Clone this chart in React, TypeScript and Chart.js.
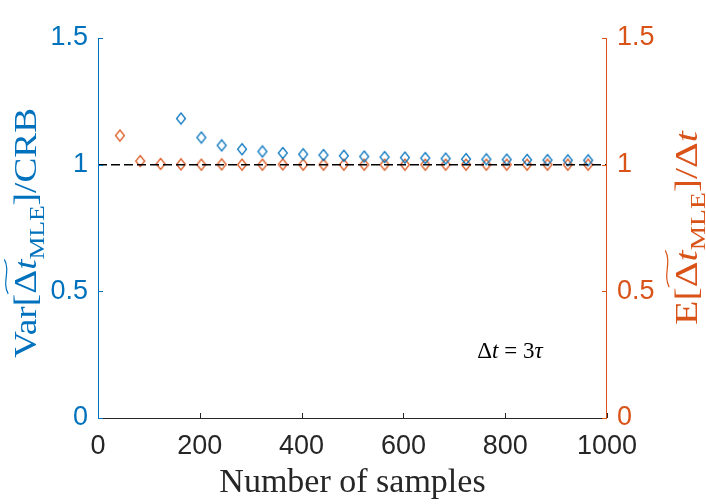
import React, { useEffect, useRef } from 'react';
import { Chart, registerables } from 'chart.js';

Chart.register(...registerables);

// sample counts for each estimate
const sampleCounts = [43, 83, 123, 163, 203, 243, 283, 323, 363, 403, 443, 483, 523, 563, 603, 643, 683, 723, 763, 803, 843, 883, 923, 963];
const varSampleCounts = [163, 203, 243, 283, 323, 363, 403, 443, 483, 523, 563, 603, 643, 683, 723, 763, 803, 843, 883, 923, 963];

// Var[dt_MLE]/CRB  (left axis)
const varRatio = [1.182, 1.107, 1.076, 1.061, 1.052, 1.046, 1.041, 1.038, 1.035, 1.032, 1.03, 1.028, 1.026, 1.024, 1.022, 1.021, 1.02, 1.019, 1.018, 1.017, 1.017];
// E[dt_MLE]/dt  (right axis)
const meanRatio = [1.115, 1.014, 1.003, 1.001, 1.0, 1.001, 1.0, 1.0, 1.001, 1.0, 1.0, 1.0, 1.0, 1.0, 1.0, 1.0, 1.0, 1.0, 1.0, 1.0, 1.0, 1.0, 1.0, 1.0];

const xTicks = [0, 200, 400, 600, 800, 1000];
const yTicks = [0, 0.5, 1, 1.5];

const BLUE = '#0072BD';
const ORANGE = '#D95319';
const DARK = '#262626';
const SANS = '"Liberation Sans", Arial, sans-serif';
const SERIF = '"Liberation Serif", "DejaVu Serif", serif';

interface Part {
  t: string;
  it?: boolean;
  sub?: boolean;
  wide?: boolean; // under the wide tilde
}

const leftLabel: Part[] = [
  { t: 'Var[' },
  { t: 'Δ', wide: true },
  { t: 't', it: true, wide: true },
  { t: 'MLE', sub: true },
  { t: ']/CRB' },
];

const rightLabel: Part[] = [
  { t: 'E[' },
  { t: 'Δ', wide: true },
  { t: 't', it: true, wide: true },
  { t: 'MLE', sub: true },
  { t: ']/Δ' },
  { t: 't', it: true },
];

const note: Part[] = [{ t: 'Δ' }, { t: 't', it: true }, { t: ' = 3' }, { t: 'τ', it: true }];

const fontFor = (p: Part, size: number) =>
  `${p.it ? 'italic ' : ''}${p.sub ? Math.round(size * 0.7) : size}px ${SERIF}`;

function richWidth(ctx: CanvasRenderingContext2D, parts: Part[], size: number) {
  let w = 0;
  parts.forEach((p) => {
    ctx.font = fontFor(p, size);
    w += ctx.measureText(p.t).width;
  });
  return w;
}

function drawRich(ctx: CanvasRenderingContext2D, parts: Part[], x0: number, size: number) {
  let x = x0;
  let ts: number | null = null;
  let te = 0;
  ctx.textBaseline = 'alphabetic';
  ctx.textAlign = 'left';
  parts.forEach((p) => {
    ctx.font = fontFor(p, size);
    ctx.fillText(p.t, x, p.sub ? size * 0.24 : 0);
    const w = ctx.measureText(p.t).width;
    if (p.wide) {
      if (ts === null) ts = x;
      te = x + w;
    }
    x += w;
  });
  if (ts !== null) {
    const L = te - ts;
    const y = -size * 0.93;
    const amp = size * 0.06;
    ctx.beginPath();
    ctx.moveTo(ts, y + amp);
    ctx.bezierCurveTo(ts + L * 0.35, y - amp * 2.4, ts + L * 0.65, y + amp * 2.4, te, y - amp);
    ctx.lineWidth = 1.2;
    ctx.strokeStyle = ctx.fillStyle as string;
    ctx.stroke();
  }
}

// label rotated -90deg, baseline at x = bx, centred on cy, stretched a little along its length
function drawRotated(ctx: CanvasRenderingContext2D, parts: Part[], bx: number, cy: number, size: number, length: number) {
  const w = richWidth(ctx, parts, size);
  const k = Math.min(length / w, 1.25);
  ctx.save();
  ctx.translate(bx, cy);
  ctx.rotate(-Math.PI / 2);
  ctx.scale(k, 1);
  drawRich(ctx, parts, -w / 2, size);
  ctx.restore();
}

function diamond(color: string) {
  const c = document.createElement('canvas');
  c.width = 12;
  c.height = 14;
  const g = c.getContext('2d')!;
  g.strokeStyle = color;
  g.lineWidth = 1.2;
  g.beginPath();
  g.moveTo(6, 1.5);
  g.lineTo(10.5, 7);
  g.lineTo(6, 12.5);
  g.lineTo(1.5, 7);
  g.closePath();
  g.stroke();
  return c;
}

const decor = {
  id: 'decor',
  afterDatasetsDraw(chart: Chart) {
    const { ctx, chartArea: a, scales } = chart;
    ctx.save();
    ctx.lineWidth = 1;

    // bottom axis with inward ticks
    ctx.strokeStyle = DARK;
    ctx.beginPath();
    ctx.moveTo(a.left, a.bottom + 0.5);
    ctx.lineTo(a.right, a.bottom + 0.5);
    xTicks.forEach((v) => {
      const px = Math.round(scales.x.getPixelForValue(v)) + 0.5;
      ctx.moveTo(px, a.bottom);
      ctx.lineTo(px, a.bottom - 5);
    });
    ctx.stroke();

    // left axis
    ctx.strokeStyle = BLUE;
    ctx.beginPath();
    ctx.moveTo(a.left + 0.5, a.top);
    ctx.lineTo(a.left + 0.5, a.bottom + 1);
    yTicks.forEach((v) => {
      const py = Math.round(scales.y.getPixelForValue(v)) + 0.5;
      ctx.moveTo(a.left, py);
      ctx.lineTo(a.left + 5, py);
    });
    ctx.stroke();

    // right axis
    ctx.strokeStyle = ORANGE;
    ctx.beginPath();
    ctx.moveTo(a.right - 0.5, a.top);
    ctx.lineTo(a.right - 0.5, a.bottom + 1);
    yTicks.forEach((v) => {
      const py = Math.round(scales.y2.getPixelForValue(v)) + 0.5;
      ctx.moveTo(a.right, py);
      ctx.lineTo(a.right - 5, py);
    });
    ctx.stroke();

    // x title
    ctx.fillStyle = DARK;
    ctx.font = `34px ${SERIF}`;
    ctx.textAlign = 'center';
    ctx.textBaseline = 'alphabetic';
    ctx.fillText('Number of samples', (a.left + a.right) / 2, 492);

    // y titles, rotated
    ctx.fillStyle = BLUE;
    drawRotated(ctx, leftLabel, 36, 233, 32, 250);
    ctx.fillStyle = ORANGE;
    drawRotated(ctx, rightLabel, 697, 228, 32, 224);

    // annotation
    ctx.fillStyle = '#000';
    const ns = 23;
    ctx.save();
    ctx.translate(0, 358);
    drawRich(ctx, note, 510 - richWidth(ctx, note, ns) / 2, ns);
    ctx.restore();
    ctx.restore();
  },
};

const App: React.FC = () => {
  const chartRef = useRef<HTMLCanvasElement>(null);

  useEffect(() => {
    const ctx = chartRef.current?.getContext('2d');
    if (!ctx) return;

    const tickFont = { family: SANS, size: 27 };

    const chart = new Chart(ctx, {
      type: 'scatter',
      data: {
        datasets: [
          {
            type: 'line',
            data: [
              { x: 0, y: 1 },
              { x: 1000, y: 1 },
            ],
            borderColor: '#000',
            borderWidth: 1.5,
            borderDash: [9, 4],
            pointRadius: 0,
            yAxisID: 'y',
            order: 0,
          },
          {
            label: 'Var',
            data: varSampleCounts.map((x, i) => ({ x, y: varRatio[i] })),
            pointStyle: diamond(BLUE),
            pointRadius: 6,
            yAxisID: 'y',
            order: 1,
          },
          {
            label: 'Mean',
            data: sampleCounts.map((x, i) => ({ x, y: meanRatio[i] })),
            pointStyle: diamond(ORANGE),
            pointRadius: 6,
            yAxisID: 'y2',
            order: 2,
          },
        ],
      },
      options: {
        responsive: false,
        animation: false,
        layout: { padding: { top: 38, left: 0, right: 0, bottom: 0 } },
        plugins: {
          legend: { display: false },
          tooltip: { enabled: false },
        },
        scales: {
          x: {
            type: 'linear',
            min: 0,
            max: 1000,
            grid: { display: false, drawTicks: false },
            border: { display: false },
            ticks: {
              stepSize: 200,
              color: DARK,
              font: tickFont,
              padding: 12,
              maxRotation: 0,
              autoSkip: false,
              callback: (v) => String(v),
            },
            afterFit: (s) => {
              s.height = 86;
            },
          },
          y: {
            position: 'left',
            min: 0,
            max: 1.5,
            grid: { display: false, drawTicks: false },
            border: { display: false },
            ticks: { stepSize: 0.5, color: BLUE, font: tickFont, padding: 10, callback: (v) => String(v) },
            afterFit: (s) => {
              s.width = 98;
            },
          },
          y2: {
            position: 'right',
            min: 0,
            max: 1.5,
            grid: { display: false, drawTicks: false },
            border: { display: false },
            ticks: { stepSize: 0.5, color: ORANGE, font: tickFont, padding: 10, callback: (v) => String(v) },
            afterFit: (s) => {
              s.width = 99;
            },
          },
        },
      },
      plugins: [decor],
    });

    return () => {
      chart.destroy();
    };
  }, []);

  return (
    <div style={{ position: 'fixed', left: 0, top: 0, width: 706, height: 504, background: '#fff' }}>
      <canvas ref={chartRef} width={706} height={504} style={{ display: 'block' }} />
    </div>
  );
};

export default App;
